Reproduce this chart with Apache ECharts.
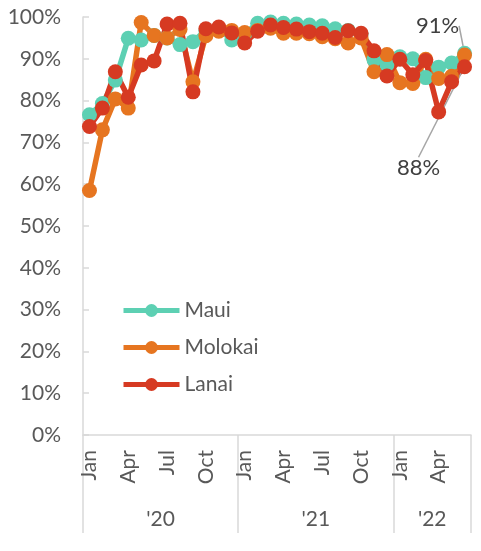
<!DOCTYPE html>
<html>
<head>
<meta charset="utf-8">
<script src="https://cdn.jsdelivr.net/npm/echarts@6/dist/echarts.min.js"></script>
<style>
  html, body { margin: 0; padding: 0; background: #fff; }
  #chart { width: 481px; height: 551px; }
</style>
</head>
<body>
<div id="chart"></div>
<script>
const monthNames = ['Jan', 'Feb', 'Mar', 'Apr', 'May', 'Jun', 'Jul', 'Aug', 'Sep', 'Oct', 'Nov', 'Dec'];
const years = ["'20", "'21", "'22"];
const monthsInYear = [12, 12, 6];

// share of value, percent, Jan 2020 .. Jun 2022
const maui = [76.6, 79.3, 84.9, 94.9, 94.5, 95.6, 95.0, 93.4, 94.1, 96.8, 97.3, 94.5,
              96.0, 98.5, 98.8, 98.5, 98.3, 98.1, 97.9, 97.2, 96.8, 95.8, 89.8, 88.6,
              90.5, 90.0, 85.5, 88.0, 89.0, 91.3];
const molokai = [58.5, 73.0, 80.4, 78.2, 98.7, 95.6, 95.0, 97.0, 84.5, 95.5, 96.6, 96.8,
                 96.3, 96.8, 97.3, 96.1, 96.1, 96.0, 95.3, 94.8, 93.8, 95.0, 86.9, 91.0,
                 84.3, 84.1, 89.9, 85.3, 85.8, 90.9];
const lanai = [73.8, 78.2, 86.9, 80.8, 88.5, 89.5, 98.3, 98.5, 82.1, 97.2, 97.6, 96.2,
               93.8, 96.6, 98.1, 97.5, 97.1, 96.5, 96.1, 95.1, 96.7, 96.1, 91.9, 85.9,
               89.9, 86.2, 89.6, 77.3, 84.5, 88.1];

// monthly categories
const months = [];
years.forEach(function (y, yi) {
    for (let m = 0; m < monthsInYear[yi]; m++) months.push(monthNames[m] + ' ' + y);
});

// half-month points for the year row: ticks at year edges, labels at year middles
const yearPoints = [];
const yearEdges = [0];
const yearMiddles = {};
let pos = 0;
years.forEach(function (y, yi) {
    yearMiddles[pos + monthsInYear[yi]] = y;
    pos += monthsInYear[yi] * 2;
    yearEdges.push(pos);
});
for (let i = 0; i <= pos; i++) yearPoints.push(yearMiddles[i] || '');

const font = 'Lato';
const grey = '#595959';
const axisGrey = '#d9d9d9';
const last = months.length - 1;

const chart = echarts.init(document.getElementById('chart'), null, {renderer: 'canvas'});

// only the last point of a series gets a moved data label with a leader line
function lineSeries(name, values, color, labelPos, dx, dy) {
    const data = values.map(function (v, i) {
        if (i !== last || !labelPos) return v;
        return {
            value: v,
            label: {
                show: true,
                position: labelPos,
                fontFamily: font,
                fontSize: 22,
                color: '#404040',
                formatter: function (p) { return Math.round(p.value) + '%'; }
            },
            labelLine: {show: true, lineStyle: {color: '#a6a6a6', width: 1.5}}
        };
    });
    return {
        name: name,
        type: 'line',
        xAxisIndex: 0,
        data: data,
        symbol: 'circle',
        symbolSize: 15,
        showSymbol: true,
        showAllSymbol: true,
        lineStyle: {color: color, width: 5.5},
        itemStyle: {color: color},
        label: {show: false},
        labelLayout: function (p) {
            if (p.dataIndex !== last) return {};
            return {dx: dx, dy: dy};
        }
    };
}

const option = {
    animation: false,
    grid: {left: 83, right: 10, top: 17, bottom: 116},
    legend: {
        orient: 'vertical',
        left: 116,
        top: 295,
        itemWidth: 56,
        itemHeight: 16,
        itemGap: 16,
        lineStyle: {width: 5},
        textStyle: {fontFamily: font, fontSize: 21, color: grey},
        data: ['Maui', 'Molokai', 'Lanai']
    },
    xAxis: [
        {
            type: 'category',
            data: months,
            position: 'bottom',
            boundaryGap: true,
            axisLine: {show: true, lineStyle: {color: axisGrey, width: 1.5}},
            axisTick: {show: false},
            axisLabel: {
                rotate: 90,
                margin: 15,
                fontFamily: font,
                fontSize: 21,
                color: grey,
                interval: function (i) { return i % 3 === 0; },
                formatter: function (v) { return v.split(' ')[0]; }
            }
        },
        {
            type: 'category',
            data: yearPoints,
            position: 'bottom',
            boundaryGap: false,
            axisLine: {show: false},
            axisTick: {
                show: true,
                length: 98,
                lineStyle: {color: axisGrey, width: 1.5},
                interval: function (i) { return yearEdges.indexOf(i) >= 0; }
            },
            axisLabel: {
                margin: 74,
                fontFamily: font,
                fontSize: 21,
                color: grey,
                interval: function (i) { return yearPoints[i] !== ''; }
            }
        }
    ],
    yAxis: {
        type: 'value',
        min: 0,
        max: 100,
        interval: 10,
        splitLine: {show: false},
        axisLine: {show: true, lineStyle: {color: axisGrey, width: 1.5}},
        axisTick: {show: true, inside: true, length: 6, lineStyle: {color: axisGrey, width: 1.5}},
        axisLabel: {
            margin: 22,
            fontFamily: font,
            fontSize: 21,
            color: grey,
            formatter: '{value}%'
        }
    },
    series: [
        lineSeries('Maui', maui, '#5dd0b3', 'top', -27, -4),
        lineSeries('Molokai', molokai, '#e67520', null, 0, 0),
        lineSeries('Lanai', lanai, '#d63a22', 'bottom', -46, 78)
    ]
};

chart.setOption(option);
</script>
</body>
</html>
